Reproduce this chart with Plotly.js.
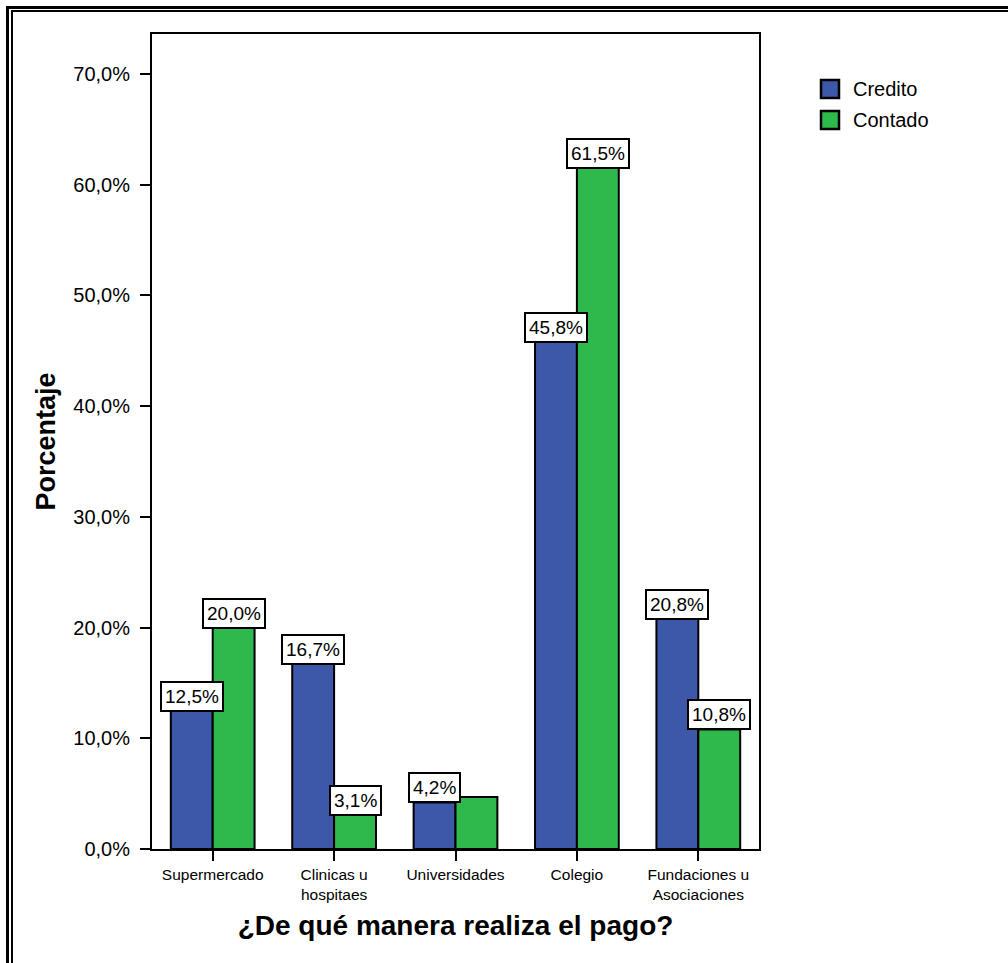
<!DOCTYPE html>
<html>
<head>
<meta charset="utf-8">
<script src="https://cdn.plot.ly/plotly-3.0.1.min.js"></script>
<style>
  html, body { margin: 0; padding: 0; width: 1008px; height: 963px; overflow: hidden; background: #fff; }
  #chart { position: absolute; left: 0; top: 0; width: 1008px; height: 963px; }
  .frame1 { position: absolute; left: 6px; top: 6px; width: 1200px; height: 1200px; border: 3px solid #000; box-sizing: border-box; pointer-events: none; }
  .frame2 { position: absolute; left: 11px; top: 10px; width: 1200px; height: 1200px; border: 2px solid #000; box-sizing: border-box; pointer-events: none; }
</style>
</head>
<body>
<div id="chart"></div>
<div class="frame1"></div>
<div class="frame2"></div>
<script>
// ---- data ----
const categories = ["Supermercado", "Clinicas u<br>hospitaes", "Universidades", "Colegio", "Fundaciones u<br>Asociaciones"];
const seriesNames = ["Credito", "Contado"];
const credito = [12.5, 16.7, 4.2, 45.8, 20.8];
const contado = [20.0, 3.1, 4.7, 61.5, 10.8];
const creditoLabels = ["12,5%", "16,7%", "4,2%", "45,8%", "20,8%"];
const contadoLabels = ["20,0%", "3,1%", null, "61,5%", "10,8%"];
const yTickVals = [0, 10, 20, 30, 40, 50, 60, 70];
const yTickText = ["0,0%", "10,0%", "20,0%", "30,0%", "40,0%", "50,0%", "60,0%", "70,0%"];

// ---- style ----
const colors = ["#3d57a9", "#2fb84b"];
const bargap = 0.31;
const font = "Liberation Sans, Arial, sans-serif";
const plotL = 152, plotR = 759, plotT = 34, plotB = 849;
const px2x = p => (p - plotL) / (plotR - plotL);
const px2y = p => (plotB - p) / (plotB - plotT);

const traces = [credito, contado].map((vals, i) => ({
  type: "bar",
  name: seriesNames[i],
  x: categories,
  y: vals,
  marker: { color: colors[i], line: { color: "#000", width: 2 } },
  hoverinfo: "skip"
}));

// label boxes
const annotations = [];
const barW = (1 - bargap) / 2;
[[credito, creditoLabels, -1], [contado, contadoLabels, 1]].forEach(([vals, labs, side]) => {
  vals.forEach((v, k) => {
    if (labs[k] == null) return;
    annotations.push({
      x: k + side * barW / 2, xref: "x",
      y: v, yref: "y",
      yanchor: "bottom", xanchor: "center",
      text: labs[k], showarrow: false,
      font: { family: font, size: 19, color: "#000" },
      bgcolor: "#fff", bordercolor: "#000", borderwidth: 2, borderpad: 3,
      yshift: -1
    });
  });
});

// legend (drawn as shapes + text)
const shapes = [];
seriesNames.forEach((nm, i) => {
  const cy = 89 + i * 31;
  shapes.push({
    type: "rect", xref: "paper", yref: "paper",
    x0: px2x(821), x1: px2x(839), y0: px2y(cy + 9), y1: px2y(cy - 9),
    fillcolor: colors[i], line: { color: "#000", width: 2.5 }
  });
  annotations.push({
    xref: "paper", yref: "paper", x: px2x(851), y: px2y(cy),
    xanchor: "left", yanchor: "middle", showarrow: false,
    text: nm, font: { family: font, size: 20, color: "#000" }
  });
});

const layout = {
  width: 1008, height: 963,
  margin: { l: plotL, r: 1008 - plotR, t: plotT, b: 963 - plotB },
  paper_bgcolor: "#fff", plot_bgcolor: "#fff",
  barmode: "group", bargap: bargap, bargroupgap: 0,
  showlegend: false,
  xaxis: {
    type: "category",
    showline: true, linecolor: "#000", linewidth: 2, mirror: true,
    ticks: "outside", ticklen: 10, tickwidth: 2, tickcolor: "#000",
    tickfont: { family: font, size: 15.5, color: "#000" },
    showgrid: false, zeroline: false, automargin: false,
    title: { text: "¿De qué manera realiza el pago?", font: { family: font, size: 28, color: "#000", weight: "bold" }, standoff: 14 }
  },
  yaxis: {
    range: [0, 73.6],
    tickvals: yTickVals, ticktext: yTickText,
    showline: true, linecolor: "#000", linewidth: 2, mirror: true,
    ticks: "outside", ticklen: 10, tickwidth: 2, tickcolor: "#000",
    ticklabelstandoff: 6,
    tickfont: { family: font, size: 20, color: "#000" },
    showgrid: false, zeroline: false, automargin: false,
    title: { text: "Porcentaje", font: { family: font, size: 27, color: "#000", weight: "bold" }, standoff: 10 }
  },
  annotations: annotations,
  shapes: shapes
};

Plotly.newPlot("chart", traces, layout, { staticPlot: true, displayModeBar: false });
</script>
</body>
</html>
